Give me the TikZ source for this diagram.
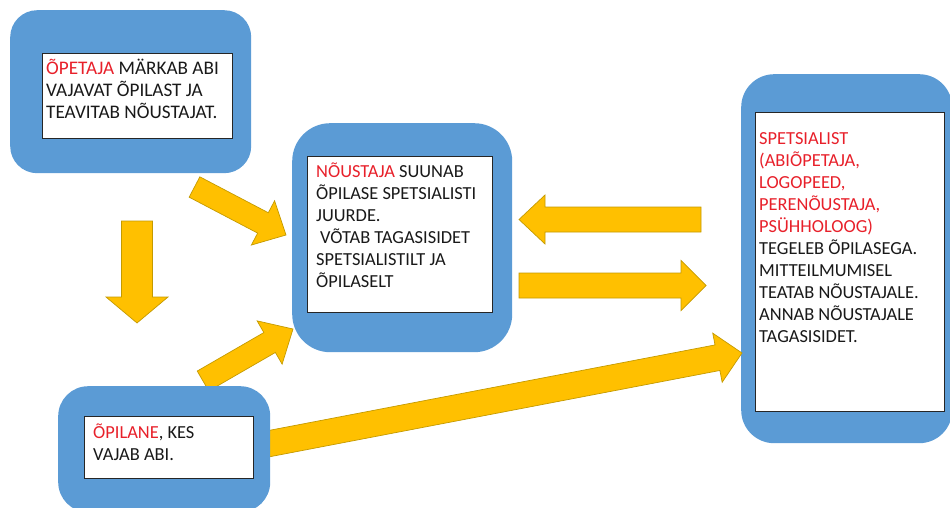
\documentclass[tikz,border=0pt]{standalone}
\usepackage{fontspec}
\setmainfont{Carlito}
\usetikzlibrary{calc}
\definecolor{boxblue}{HTML}{5B9BD5}
\definecolor{arrowyellow}{HTML}{FFC000}
\definecolor{arrowedge}{HTML}{C49A00}
\definecolor{txtred}{HTML}{E8202A}
% block arrow: tail, tip, shaft half width, head half width, head length
\newcommand\yarrow[5]{%
  \path coordinate (hb) at ($(#2)!#5!(#1)$);
  \draw[yarr] ($(#1)!#3!90:(#2)$) -- ($(hb)!#3!90:(#2)$) -- ($(hb)!#4!90:(#2)$)
    -- (#2) -- ($(hb)!#4!-90:(#2)$) -- ($(hb)!#3!-90:(#2)$) -- ($(#1)!#3!-90:(#2)$) -- cycle;
}
\begin{document}
\begin{tikzpicture}[x=1pt,y=-1pt,
  bluebox/.style={fill=boxblue, draw=none, anchor=north west, inner sep=0pt},
  whitebox/.style={fill=white, draw=black!85, line width=0.9pt, anchor=north west, inner sep=0pt},
  yarr/.style={fill=arrowyellow, draw=arrowedge, line width=0.7pt, line join=miter},
  lbl/.style={anchor=base west, inner sep=0pt, font=\fontsize{18.4}{22}\selectfont, text=black!90}
]
\useasboundingbox (0,0) rectangle (950,508);

% blue boxes (upper three)
\node[bluebox, rounded corners=27pt, minimum width=241pt, minimum height=163pt] (b1) at (10,10) {};
\node[bluebox, rounded corners=38pt, minimum width=220pt, minimum height=229pt] (b2) at (292,123) {};
\node[bluebox, rounded corners=33pt, minimum width=211pt, minimum height=369pt] (b3) at (741,74) {};

% arrows
\coordinate (a1s) at (137,221); \coordinate (a1e) at (137,323);
\coordinate (a2s) at (194.5,187); \coordinate (a2e) at (286,235);
\coordinate (a3s) at (203,381); \coordinate (a3e) at (293,329);
\coordinate (a4s) at (701,219.5); \coordinate (a4e) at (519,219.5);
\coordinate (a5s) at (519,285.5); \coordinate (a5e) at (706,285.5);
\coordinate (a6s) at (262,445); \coordinate (a6e) at (742,353);
\yarrow{a1s}{a1e}{15.5pt}{31pt}{26pt}
\yarrow{a2s}{a2e}{11.5pt}{25pt}{26pt}
\yarrow{a3s}{a3e}{11.5pt}{25pt}{27pt}
\yarrow{a4s}{a4e}{12.5pt}{24.5pt}{26pt}
\yarrow{a5s}{a5e}{12.5pt}{25pt}{25pt}
\yarrow{a6s}{a6e}{13pt}{25pt}{25pt}

% lower blue box
\node[bluebox, rounded corners=30pt, minimum width=212pt, minimum height=126pt] (b4) at (58,386) {};

% white boxes
\node[whitebox, minimum width=190pt, minimum height=85pt] (w1) at (42,53) {};
\node[whitebox, minimum width=185pt, minimum height=156pt] (w2) at (307,156) {};
\node[whitebox, minimum width=189pt, minimum height=299pt] (w3) at (755,112) {};
\node[whitebox, minimum width=169pt, minimum height=62pt] (w4) at (84,416) {};

% texts
\node[lbl, font=\fontsize{19.2}{22}\selectfont] (t1) at (46,75) {\parbox[t]{190pt}{\raggedright
  \textcolor{txtred}{ÕPETAJA} MÄRKAB ABI\\
  VAJAVAT ÕPILAST JA\\
  TEAVITAB NÕUSTAJAT.}};
\node[lbl] (t2) at (316,177) {\parbox[t]{180pt}{\raggedright
  \textcolor{txtred}{NÕUSTAJA} SUUNAB\\
  ÕPILASE SPETSIALISTI\\
  JUURDE.\\
  \hspace*{4pt}VÕTAB TAGASISIDET\\
  SPETSIALISTILT JA\\
  ÕPILASELT}};
\node[lbl] (t3) at (759,133) {\parbox[t]{190pt}{\raggedright
  {\color{txtred}SPETSIALIST\\
  (ABIÕPETAJA,\\
  LOGOPEED,\\
  PERENÕUSTAJA,\\
  PSÜHHOLOOG)}\\
  TEGELEB ÕPILASEGA.\\
  MITTEILMUMISEL\\
  TEATAB NÕUSTAJALE.\\
  ANNAB NÕUSTAJALE\\
  TAGASISIDET.}};
\node[lbl] (t4) at (93,438) {\parbox[t]{160pt}{\raggedright
  \textcolor{txtred}{ÕPILANE}, KES\\
  VAJAB ABI.}};
\end{tikzpicture}
\end{document}
